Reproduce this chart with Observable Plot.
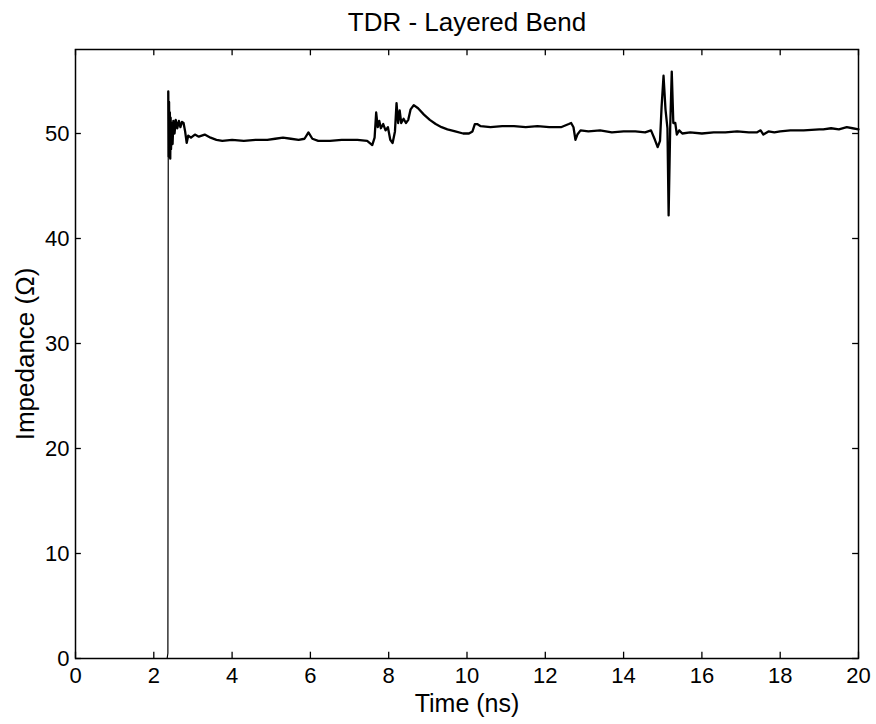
<!DOCTYPE html>
<html>
<head>
<meta charset="utf-8">
<script src="https://cdn.jsdelivr.net/npm/d3@7"></script>
<script src="https://cdn.jsdelivr.net/npm/@observablehq/plot@0.6"></script>
<style>
  html, body { margin: 0; padding: 0; background: #fff; }
  #chart { width: 876px; height: 724px; }
</style>
</head>
<body>
<div id="chart"></div>
<script>
const title = "TDR - Layered Bend";
const xLabel = "Time (ns)";
const yLabel = "Impedance (Ω)";
const xTicks = [0, 2, 4, 6, 8, 10, 12, 14, 16, 18, 20];
const yTicks = [0, 10, 20, 30, 40, 50];

const time = [0, 2.34, 2.36, 2.37, 2.38, 2.39, 2.40, 2.41, 2.42, 2.43, 2.44, 2.46, 2.48, 2.50, 2.53, 2.56, 2.60, 2.64, 2.68, 2.72, 2.76, 2.80, 2.84, 2.88, 2.95, 3.05, 3.15, 3.3, 3.45, 3.6, 3.75, 4.0, 4.3, 4.6, 4.9, 5.1, 5.3, 5.5, 5.7, 5.85, 5.95, 6.05, 6.2, 6.5, 6.8, 7.0, 7.2, 7.45, 7.58, 7.64, 7.68, 7.72, 7.76, 7.8, 7.86, 7.92, 7.98, 8.04, 8.1, 8.16, 8.2, 8.24, 8.28, 8.32, 8.38, 8.44, 8.5, 8.56, 8.64, 8.75, 8.9, 9.05, 9.2, 9.35, 9.5, 9.7, 9.9, 10.05, 10.14, 10.2, 10.26, 10.35, 10.6, 10.9, 11.2, 11.5, 11.8, 12.1, 12.4, 12.6, 12.66, 12.72, 12.77, 12.82, 12.9, 13.1, 13.4, 13.7, 14.0, 14.3, 14.55, 14.7, 14.8, 14.87, 14.93, 14.97, 15.02, 15.07, 15.12, 15.15, 15.19, 15.23, 15.27, 15.32, 15.36, 15.42, 15.5, 15.7, 16.0, 16.3, 16.6, 16.9, 17.2, 17.4, 17.5, 17.57, 17.7, 17.85, 18.0, 18.26, 18.6, 19.0, 19.1, 19.3, 19.5, 19.7, 19.85, 20];
const impedance = [0, 0, 0.5, 54, 47.8, 53, 48, 52, 47.6, 51.5, 48.5, 51, 49, 51.2, 50, 51.3, 50.5, 51.2, 50.6, 51.1, 51.0, 50.2, 49.1, 49.8, 49.6, 49.9, 49.7, 49.9, 49.6, 49.4, 49.3, 49.4, 49.3, 49.4, 49.4, 49.5, 49.6, 49.5, 49.4, 49.5, 50.1, 49.5, 49.3, 49.3, 49.4, 49.4, 49.4, 49.3, 48.9, 49.6, 52.0, 50.6, 51.2, 50.5, 50.9, 50.3, 50.6, 49.4, 49.1, 50.2, 52.9, 51.0, 52.2, 51.0, 51.4, 51.0, 51.3, 52.3, 52.7, 52.4, 51.8, 51.3, 50.9, 50.6, 50.4, 50.2, 50.0, 50.0, 50.2, 50.9, 50.9, 50.7, 50.6, 50.7, 50.7, 50.6, 50.7, 50.6, 50.6, 50.9, 51.0, 50.6, 49.4, 49.9, 50.3, 50.2, 50.3, 50.1, 50.2, 50.2, 50.1, 50.3, 49.4, 48.7, 49.3, 52.5, 55.5, 52.3, 50.5, 42.2, 50.5, 55.9, 51.0, 51.0, 49.9, 50.3, 50.0, 50.1, 50.0, 50.1, 50.1, 50.2, 50.1, 50.1, 50.3, 49.9, 50.2, 50.1, 50.2, 50.3, 50.3, 50.4, 50.4, 50.5, 50.4, 50.6, 50.5, 50.4];

const data = time.map((t, i) => ({t, z: impedance[i]}));
const rise = data.filter(d => d.t <= 2.37);
const rest = data.filter(d => d.t >= 2.37);
const xDomain = [0, 20];
const yDomain = [0, 58];
const tickLenX = 0.6;   // in y units (~6px)
const tickLenY = 0.15;  // in x units (~6px)

const chart = Plot.plot({
  width: 876,
  height: 724,
  marginLeft: 75,
  marginRight: 18,
  marginTop: 49,
  marginBottom: 66,
  style: {fontFamily: "'Liberation Sans', Arial, sans-serif", fontSize: "22px", color: "#000", background: "#fff"},
  x: {domain: xDomain, axis: null},
  y: {domain: yDomain, axis: null},
  marks: [
    Plot.axisX(xTicks, {anchor: "bottom", tickSize: 0, tickPadding: 9, label: null, tickFormat: d => String(d)}),
    Plot.axisY(yTicks, {anchor: "left", tickSize: 0, tickPadding: 6, label: null, tickFormat: d => String(d)}),
    Plot.ruleX(xTicks, {x: d => d, y1: yDomain[0], y2: yDomain[0] + tickLenX, stroke: "#000", strokeWidth: 1.3}),
    Plot.ruleX(xTicks, {x: d => d, y1: yDomain[1], y2: yDomain[1] - tickLenX, stroke: "#000", strokeWidth: 1.3}),
    Plot.ruleY(yTicks, {y: d => d, x1: xDomain[0], x2: xDomain[0] + tickLenY, stroke: "#000", strokeWidth: 1.3}),
    Plot.ruleY(yTicks, {y: d => d, x1: xDomain[1], x2: xDomain[1] - tickLenY, stroke: "#000", strokeWidth: 1.3}),
    Plot.line(rise, {x: "t", y: "z", stroke: "#000", strokeWidth: 1.2}),
    Plot.line(rest, {x: "t", y: "z", stroke: "#000", strokeWidth: 2.3, strokeLinejoin: "round"}),
    Plot.frame({stroke: "#000", strokeWidth: 1.5}),
    Plot.text([title], {frameAnchor: "top", textAnchor: "middle", lineAnchor: "middle", dy: -27, fontSize: 26, fill: "#000"}),
    Plot.text([xLabel], {frameAnchor: "bottom", textAnchor: "middle", lineAnchor: "middle", dy: 45, fontSize: 25, fill: "#000"}),
    Plot.text([yLabel], {frameAnchor: "left", textAnchor: "middle", lineAnchor: "middle", dx: -50, rotate: -90, fontSize: 26, fill: "#000"})
  ]
});
document.getElementById("chart").appendChild(chart);
</script>
</body>
</html>
